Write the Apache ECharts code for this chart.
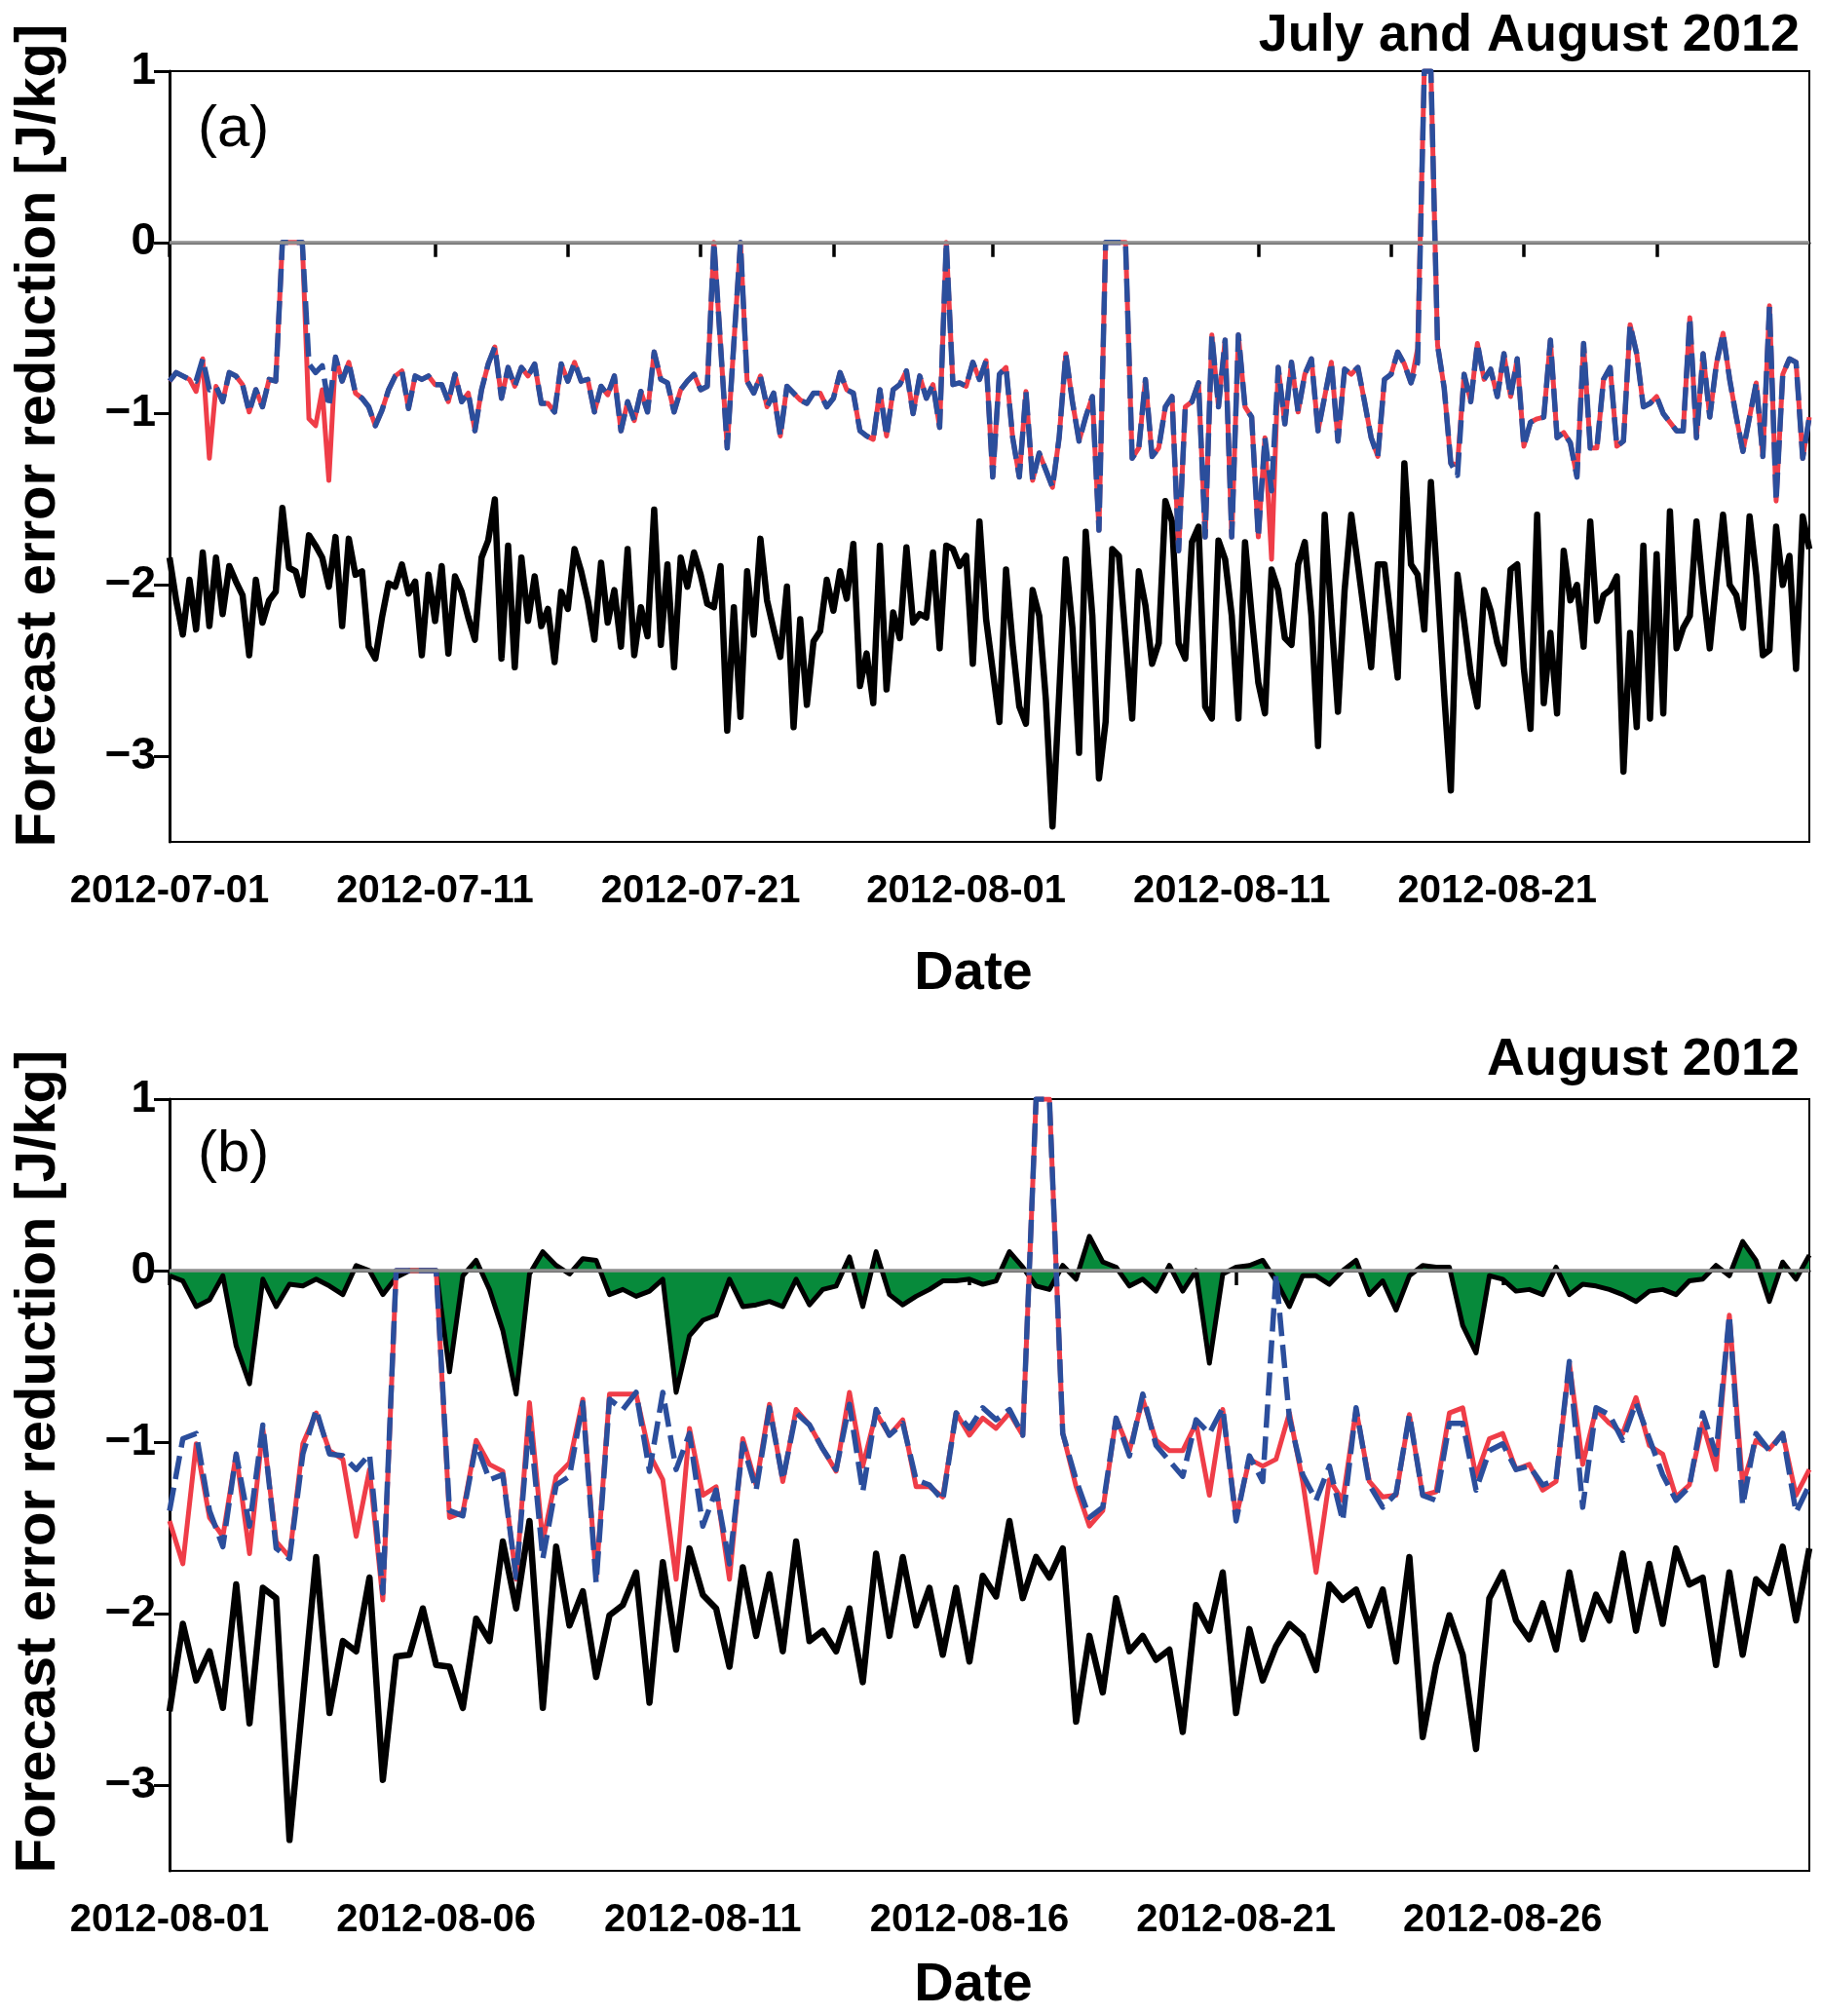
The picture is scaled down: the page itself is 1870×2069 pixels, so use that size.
<!DOCTYPE html>
<html>
<head>
<meta charset="utf-8">
<script src="https://cdn.jsdelivr.net/npm/echarts/dist/echarts.min.js"></script>
<style>
  html, body { margin: 0; padding: 0; background: #fff; }
  #chart { width: 1870px; height: 2069px; }
</style>
</head>
<body>
<div id="chart"></div>
<script>
// 6-hourly analysis times, e.g. '2012-07-01 00'
function sixHourly(year, month, days) {
  const out = [];
  const mm = String(month).padStart(2, '0');
  for (let d = 1; d <= days; d++) {
    const dd = String(d).padStart(2, '0');
    ['00', '06', '12', '18'].forEach(h => out.push(`${year}-${mm}-${dd} ${h}`));
  }
  return out;
}

const julyAugTimes = sixHourly(2012, 7, 31).concat(sixHourly(2012, 8, 31));
const augTimes = sixHourly(2012, 8, 31);

const tickDays = [1, 6, 11, 16, 21, 26];
// panel (a) labels sit every 40 cycles (10 days), as in the original figure
const labelsA = ['2012-07-01', '2012-07-11', '2012-07-21', '2012-08-01', '2012-08-11', '2012-08-21'];
const labelDaysB = [1, 6, 11, 16, 21, 26];
const yTicks = [-3, -2, -1, 0, 1];

// panel (a): July and August 2012
const julyAugRed = [
  -0.81,-0.76,-0.78,-0.80,-0.87,-0.68,-1.26,-0.84,-0.93,-0.76,-0.78,-0.83,-0.99,-0.86,-0.96,-0.80,-0.81,0,0,0,
  0,-1.03,-1.07,-0.86,-1.39,-0.67,-0.81,-0.70,-0.88,-0.91,-0.96,-1.07,-0.98,-0.86,-0.78,-0.75,-0.97,-0.78,-0.80,-0.78,
  -0.83,-0.83,-0.93,-0.77,-0.93,-0.88,-1.10,-0.86,-0.71,-0.61,-0.91,-0.73,-0.84,-0.73,-0.78,-0.71,-0.94,-0.94,-0.99,-0.71,
  -0.81,-0.70,-0.81,-0.80,-0.99,-0.84,-0.89,-0.78,-1.10,-0.93,-1.04,-0.87,-0.99,-0.64,-0.80,-0.82,-0.99,-0.86,-0.81,-0.77,
  -0.86,-0.84,0,-0.60,-1.20,-0.59,0,-0.81,-0.88,-0.78,-0.96,-0.88,-1.13,-0.84,-0.88,-0.92,-0.94,-0.88,-0.88,-0.96,
  -0.91,-0.76,-0.86,-0.88,-1.10,-1.13,-1.15,-0.86,-1.13,-0.86,-0.83,-0.75,-1.00,-0.78,-0.91,-0.83,-1.08,0,-0.83,-0.82,
  -0.84,-0.70,-0.80,-0.69,-1.37,-0.77,-0.73,-1.14,-1.37,-0.87,-1.39,-1.23,-1.33,-1.43,-1.14,-0.65,-0.93,-1.16,-1.02,-0.90,
  -1.68,0,0,0,0,-1.26,-1.20,-0.80,-1.25,-1.20,-0.96,-0.90,-1.80,-0.96,-0.93,-0.82,-1.72,-0.54,-0.96,-0.57,
  -1.72,-0.54,-0.96,-1.02,-1.72,-1.14,-1.85,-0.73,-1.06,-0.70,-0.99,-0.77,-0.68,-1.10,-0.90,-0.70,-1.16,-0.74,-0.77,-0.73,
  -0.93,-1.14,-1.25,-0.80,-0.77,-0.64,-0.71,-0.82,-0.62,1,1,-0.60,-0.85,-1.29,-1.30,-0.77,-0.93,-0.59,-0.80,-0.74,
  -0.90,-0.65,-0.90,-0.68,-1.19,-1.05,-1.03,-1.02,-0.57,-1.14,-1.11,-1.17,-1.37,-0.59,-1.20,-1.20,-0.80,-0.73,-1.19,-1.16,
  -0.48,-0.65,-0.96,-0.94,-0.90,-1.00,-1.05,-1.10,-1.10,-0.44,-1.14,-0.65,-1.02,-0.71,-0.53,-0.80,-1.02,-1.22,-1.02,-0.82,
  -1.25,-0.37,-1.51,-0.77,-0.68,-0.70,-1.26,-1.02
];
const julyAugBlue = [
  -0.81,-0.76,-0.78,-0.80,-0.81,-0.68,-0.86,-0.84,-0.93,-0.76,-0.78,-0.83,-0.99,-0.86,-0.96,-0.80,-0.81,0,0,0,
  0,-0.71,-0.76,-0.72,-0.96,-0.67,-0.81,-0.70,-0.88,-0.91,-0.96,-1.07,-0.98,-0.86,-0.78,-0.75,-0.97,-0.78,-0.80,-0.78,
  -0.83,-0.83,-0.93,-0.77,-0.93,-0.88,-1.10,-0.86,-0.71,-0.61,-0.91,-0.73,-0.84,-0.73,-0.78,-0.71,-0.94,-0.94,-0.99,-0.71,
  -0.81,-0.70,-0.81,-0.80,-0.99,-0.84,-0.89,-0.78,-1.10,-0.93,-1.04,-0.87,-0.99,-0.64,-0.80,-0.82,-0.99,-0.86,-0.81,-0.77,
  -0.86,-0.84,0,-0.60,-1.20,-0.59,0,-0.81,-0.88,-0.78,-0.96,-0.88,-1.13,-0.84,-0.88,-0.92,-0.94,-0.88,-0.88,-0.96,
  -0.91,-0.76,-0.86,-0.88,-1.10,-1.13,-1.15,-0.86,-1.13,-0.86,-0.83,-0.75,-1.00,-0.78,-0.91,-0.83,-1.08,0,-0.83,-0.82,
  -0.84,-0.70,-0.80,-0.69,-1.37,-0.77,-0.73,-1.14,-1.37,-0.87,-1.39,-1.23,-1.33,-1.43,-1.14,-0.65,-0.93,-1.16,-1.02,-0.90,
  -1.68,0,0,0,0,-1.26,-1.20,-0.80,-1.25,-1.20,-0.96,-0.90,-1.80,-0.96,-0.93,-0.82,-1.72,-0.54,-0.96,-0.57,
  -1.72,-0.54,-0.96,-1.02,-1.72,-1.14,-1.45,-0.73,-1.06,-0.70,-0.99,-0.77,-0.68,-1.10,-0.90,-0.70,-1.16,-0.74,-0.77,-0.73,
  -0.93,-1.14,-1.25,-0.80,-0.77,-0.64,-0.71,-0.82,-0.70,1,1,-0.60,-0.85,-1.29,-1.36,-0.77,-0.93,-0.59,-0.80,-0.74,
  -0.90,-0.65,-0.90,-0.68,-1.19,-1.05,-1.03,-1.02,-0.57,-1.14,-1.11,-1.17,-1.37,-0.59,-1.20,-1.20,-0.80,-0.73,-1.19,-1.16,
  -0.48,-0.65,-0.96,-0.94,-0.90,-1.00,-1.05,-1.10,-1.10,-0.44,-1.14,-0.65,-1.02,-0.71,-0.53,-0.80,-1.02,-1.22,-1.02,-0.82,
  -1.25,-0.37,-1.51,-0.77,-0.68,-0.70,-1.26,-1.02
];
const julyAugBlack = [
  -1.84,-2.09,-2.29,-1.97,-2.26,-1.81,-2.24,-1.84,-2.17,-1.89,-1.98,-2.06,-2.41,-1.97,-2.22,-2.09,-2.04,-1.55,-1.90,-1.92,
  -2.06,-1.71,-1.77,-1.84,-2.01,-1.72,-2.24,-1.73,-1.94,-1.92,-2.36,-2.43,-2.19,-1.99,-2.01,-1.88,-2.05,-1.98,-2.41,-1.94,
  -2.21,-1.89,-2.40,-1.95,-2.04,-2.19,-2.32,-1.84,-1.74,-1.50,-2.43,-1.77,-2.48,-1.84,-2.21,-1.95,-2.24,-2.14,-2.45,-2.04,
  -2.14,-1.79,-1.92,-2.09,-2.32,-1.87,-2.22,-2.03,-2.36,-1.79,-2.41,-2.13,-2.30,-1.56,-2.35,-1.88,-2.48,-1.84,-2.01,-1.81,
  -1.94,-2.11,-2.13,-1.89,-2.85,-2.13,-2.77,-1.92,-2.29,-1.73,-2.09,-2.26,-2.42,-2.01,-2.83,-2.20,-2.70,-2.33,-2.27,-1.97,
  -2.15,-1.92,-2.08,-1.76,-2.59,-2.40,-2.69,-1.77,-2.61,-2.16,-2.31,-1.78,-2.22,-2.17,-2.19,-1.81,-2.37,-1.77,-1.79,-1.89,
  -1.83,-2.46,-1.63,-2.20,-2.50,-2.80,-1.91,-2.35,-2.71,-2.81,-2.03,-2.18,-2.67,-3.41,-2.64,-1.85,-2.25,-2.98,-1.69,-2.18,
  -3.13,-2.80,-1.79,-1.83,-2.31,-2.78,-1.92,-2.12,-2.46,-2.34,-1.51,-1.63,-2.34,-2.43,-1.75,-1.66,-2.71,-2.78,-1.74,-1.85,
  -2.18,-2.78,-1.75,-2.18,-2.57,-2.75,-1.91,-2.03,-2.31,-2.35,-1.88,-1.75,-2.18,-2.94,-1.59,-2.18,-2.74,-2.03,-1.59,-1.88,
  -2.18,-2.48,-1.88,-1.88,-2.21,-2.54,-1.29,-1.88,-1.94,-2.26,-1.40,-2.00,-2.64,-3.20,-1.94,-2.21,-2.52,-2.71,-2.03,-2.15,
  -2.34,-2.46,-1.91,-1.88,-2.49,-2.84,-1.59,-2.69,-2.28,-2.75,-1.80,-2.09,-2.00,-2.36,-1.63,-2.21,-2.06,-2.03,-1.95,-3.09,
  -2.28,-2.83,-1.77,-2.78,-1.82,-2.75,-1.57,-2.37,-2.25,-2.18,-1.63,-2.03,-2.37,-1.97,-1.59,-2.00,-2.06,-2.25,-1.60,-1.94,
  -2.41,-2.38,-1.66,-2.00,-1.83,-2.49,-1.60,-1.79
];

// panel (b): August 2012
const augRed = [
  -1.46,-1.71,-1.01,-1.44,-1.55,-1.07,-1.65,-0.92,-1.58,-1.67,-1.01,-0.83,-1.05,-1.10,-1.55,-1.16,-1.92,0,0,0,
  0,-1.44,-1.41,-0.99,-1.13,-1.17,-1.80,-0.77,-1.58,-1.20,-1.12,-0.75,-1.79,-0.72,-0.72,-0.72,-1.07,-1.22,-1.80,-0.92,
  -1.31,-1.26,-1.80,-0.98,-1.25,-0.78,-1.23,-0.81,-0.90,-1.04,-1.17,-0.71,-1.14,-0.83,-0.96,-0.87,-1.26,-1.26,-1.32,-0.83,
  -0.96,-0.86,-0.92,-0.83,-0.96,1,1,-0.95,-1.26,-1.49,-1.40,-0.86,-1.05,-0.75,-0.99,-1.05,-1.05,-0.89,-1.31,-0.81,
  -1.44,-1.10,-1.14,-1.10,-0.83,-1.23,-1.76,-1.22,-1.34,-0.81,-1.23,-1.32,-1.31,-0.84,-1.31,-1.29,-0.83,-0.80,-1.20,-0.98,
  -0.95,-1.16,-1.13,-1.28,-1.23,-0.54,-1.13,-0.81,-0.89,-0.95,-0.74,-1.02,-1.07,-1.32,-1.25,-0.89,-1.16,-0.26,-1.25,-0.99,
  -1.04,-0.95,-1.31,-1.16
];
const augBlue = [
  -1.40,-0.98,-0.95,-1.40,-1.61,-1.07,-1.49,-0.90,-1.62,-1.68,-1.07,-0.81,-1.07,-1.08,-1.16,-1.07,-1.88,0,0,0,
  0,-1.40,-1.43,-1.01,-1.22,-1.19,-1.79,-0.86,-1.68,-1.25,-1.20,-0.77,-1.82,-0.75,-0.81,-0.71,-1.17,-0.71,-1.16,-0.95,
  -1.49,-1.28,-1.71,-1.01,-1.28,-0.80,-1.22,-0.83,-0.90,-1.04,-1.16,-0.78,-1.29,-0.81,-0.96,-0.89,-1.22,-1.25,-1.34,-0.83,
  -0.92,-0.80,-0.87,-0.81,-0.96,1,1,-0.95,-1.22,-1.44,-1.38,-0.86,-1.08,-0.72,-1.02,-1.11,-1.20,-0.87,-0.95,-0.80,
  -1.46,-1.08,-1.23,-0.02,-0.86,-1.19,-1.34,-1.14,-1.46,-0.80,-1.25,-1.38,-1.30,-0.84,-1.31,-1.34,-0.89,-0.89,-1.28,-1.05,
  -1.01,-1.16,-1.14,-1.25,-1.22,-0.53,-1.38,-0.80,-0.84,-0.99,-0.77,-0.98,-1.19,-1.34,-1.26,-0.83,-1.07,-0.26,-1.37,-0.95,
  -1.05,-0.95,-1.41,-1.25
];
const augBlack = [
  -2.57,-2.06,-2.39,-2.22,-2.55,-1.83,-2.64,-1.85,-1.91,-3.32,-2.50,-1.67,-2.58,-2.16,-2.22,-1.79,-2.97,-2.25,-2.24,-1.97,
  -2.30,-2.31,-2.55,-2.03,-2.16,-1.58,-1.97,-1.46,-2.55,-1.61,-2.07,-1.87,-2.37,-2.01,-1.95,-1.76,-2.52,-1.70,-2.21,-1.62,
  -1.89,-1.97,-2.31,-1.73,-2.13,-1.77,-2.22,-1.58,-2.16,-2.10,-2.22,-1.97,-2.40,-1.65,-2.13,-1.67,-2.07,-1.85,-2.24,-1.85,
  -2.28,-1.78,-1.90,-1.46,-1.91,-1.67,-1.79,-1.62,-2.63,-2.13,-2.46,-1.91,-2.22,-2.13,-2.27,-2.21,-2.69,-1.95,-2.10,-1.76,
  -2.58,-2.09,-2.39,-2.19,-2.06,-2.13,-2.33,-1.83,-1.92,-1.86,-2.07,-1.86,-2.28,-1.67,-2.72,-2.30,-2.01,-2.24,-2.79,-1.91,
  -1.76,-2.04,-2.15,-1.94,-2.21,-1.76,-2.15,-1.89,-2.04,-1.65,-2.10,-1.71,-2.06,-1.62,-1.83,-1.79,-2.30,-1.76,-2.24,-1.80,
  -1.88,-1.61,-2.04,-1.62
];
const augGreen = [
  -0.03,-0.06,-0.21,-0.17,-0.03,-0.44,-0.66,-0.05,-0.21,-0.08,-0.09,-0.05,-0.09,-0.14,0.03,0.00,-0.14,-0.04,0,0,
  0,-0.59,-0.03,0.06,-0.11,-0.35,-0.72,-0.02,0.11,0.03,-0.02,0.07,0.06,-0.14,-0.11,-0.15,-0.12,-0.05,-0.71,-0.38,
  -0.29,-0.26,-0.05,-0.21,-0.20,-0.18,-0.21,-0.05,-0.20,-0.11,-0.09,0.08,-0.21,0.11,-0.14,-0.20,-0.15,-0.11,-0.06,-0.06,
  -0.05,-0.08,-0.06,0.11,0.02,-0.09,-0.11,0.03,-0.05,0.20,0.05,0.02,-0.09,-0.05,-0.12,0.03,-0.12,0.00,-0.54,-0.02,
  0.02,0.03,0.06,-0.06,-0.21,-0.03,-0.03,-0.08,0.00,0.06,-0.14,-0.06,-0.23,-0.03,0.03,0.02,0.02,-0.32,-0.48,-0.03,
  -0.05,-0.12,-0.11,-0.14,0.02,-0.14,-0.08,-0.09,-0.11,-0.14,-0.18,-0.12,-0.11,-0.14,-0.06,-0.05,0.03,-0.03,0.17,0.06,
  -0.18,0.05,-0.05,0.09
];

const FONT = '"Liberation Sans", Arial, sans-serif';
const RED = '#ef3d48';
const BLUE = '#2b4e9c';
const GREEN = '#078a3b';

function dayOf(v) { return +v.slice(8, 10); }
function isMidnight(v) { return v.slice(11) === '00'; }

function xAxisFor(gridIndex, times, labelInterval, labelFormatter) {
  return {
    type: 'category',
    gridIndex,
    data: times,
    boundaryGap: false,
    axisLine: { lineStyle: { color: '#000', width: 3 } },
    axisTick: {
      inside: false, length: 15,
      lineStyle: { color: '#000', width: 3.5 },
      interval: (i, v) => isMidnight(v) && tickDays.includes(dayOf(v))
    },
    axisLabel: {
      interval: labelInterval,
      formatter: labelFormatter,
      color: '#000', fontSize: 40, fontWeight: 'bold', fontFamily: FONT, margin: 31
    },
    splitLine: { show: false }
  };
}

function yAxisFor(gridIndex) {
  return {
    type: 'value',
    gridIndex,
    min: -3.5,
    max: 1,
    axisLine: { show: true, lineStyle: { color: '#000', width: 3 } },
    axisTick: { show: true, length: 16, lineStyle: { color: '#000', width: 3 }, customValues: yTicks },
    axisLabel: {
      customValues: yTicks,
      formatter: v => (v < 0 ? '\u2212' + Math.abs(v) : String(v)),
      color: '#000', fontSize: 46, fontWeight: 'bold', fontFamily: FONT, margin: 14
    },
    splitLine: { show: false }
  };
}

const zeroLine = {
  silent: true,
  symbol: 'none',
  label: { show: false },
  lineStyle: { color: '#8e8e8e', width: 3.5, type: 'solid' },
  data: [{ yAxis: 0 }]
};

function lineSeries(name, axis, data, color, width, type, extra) {
  return Object.assign({
    name, type: 'line', xAxisIndex: axis, yAxisIndex: axis, data,
    symbol: 'none', smooth: false,
    lineStyle: { color, width, type: type || 'solid', join: 'round' },
    itemStyle: { color }
  }, extra || {});
}

const chart = echarts.init(document.getElementById('chart'), null, { renderer: 'canvas' });

const option = {
  animation: false,
  backgroundColor: '#fff',
  textStyle: { fontFamily: FONT },
  title: [
    { text: 'July and August 2012', right: 18, top: 5,
      textStyle: { fontSize: 54, fontWeight: 'bold', color: '#000', fontFamily: FONT } },
    { text: '(a)', left: 198, top: 98,
      textStyle: { fontSize: 60, fontWeight: 'normal', color: '#000', fontFamily: FONT } },
    { text: 'August 2012', right: 18, top: 1056,
      textStyle: { fontSize: 54, fontWeight: 'bold', color: '#000', fontFamily: FONT } },
    { text: '(b)', left: 198, top: 1150,
      textStyle: { fontSize: 60, fontWeight: 'normal', color: '#000', fontFamily: FONT } }
  ],
  grid: [
    { left: 174, top: 73, width: 1683, height: 791, show: true, borderColor: '#000', borderWidth: 2 },
    { left: 174, top: 1128, width: 1683, height: 792, show: true, borderColor: '#000', borderWidth: 2 }
  ],
  xAxis: [
    xAxisFor(0, julyAugTimes, i => i % 40 === 0 && i / 40 < labelsA.length, (v, i) => labelsA[i / 40]),
    xAxisFor(1, augTimes, (i, v) => isMidnight(v) && labelDaysB.includes(dayOf(v)), v => v.slice(0, 10))
  ],
  yAxis: [yAxisFor(0), yAxisFor(1)],
  graphic: [
    { type: 'text', x: 40, y: 447, rotation: Math.PI / 2,
      style: { text: 'Forecast error reduction [J/kg]', fill: '#000', font: 'bold 58px ' + FONT,
               textAlign: 'center', textVerticalAlign: 'middle' } },
    { type: 'text', x: 40, y: 1500, rotation: Math.PI / 2,
      style: { text: 'Forecast error reduction [J/kg]', fill: '#000', font: 'bold 58px ' + FONT,
               textAlign: 'center', textVerticalAlign: 'middle' } },
    { type: 'text', x: 999, y: 1000,
      style: { text: 'Date', fill: '#000', font: 'bold 56px ' + FONT, textAlign: 'center', textVerticalAlign: 'middle' } },
    { type: 'text', x: 999, y: 2038,
      style: { text: 'Date', fill: '#000', font: 'bold 56px ' + FONT, textAlign: 'center', textVerticalAlign: 'middle' } }
  ],
  series: [
    lineSeries('black a', 0, julyAugBlack, '#000', 6.5, 'solid', { markLine: zeroLine }),
    lineSeries('red a', 0, julyAugRed, RED, 5),
    lineSeries('blue a', 0, julyAugBlue, BLUE, 5.5, [24, 9]),
    lineSeries('green b', 1, augGreen, '#000', 5, 'solid', {
      areaStyle: { color: GREEN, opacity: 1, origin: 0 },
      markLine: zeroLine
    }),
    lineSeries('red b', 1, augRed, RED, 5),
    lineSeries('blue b', 1, augBlue, BLUE, 5.5, [24, 9]),
    lineSeries('black b', 1, augBlack, '#000', 6.5)
  ]
};

chart.setOption(option);
</script>
</body>
</html>
